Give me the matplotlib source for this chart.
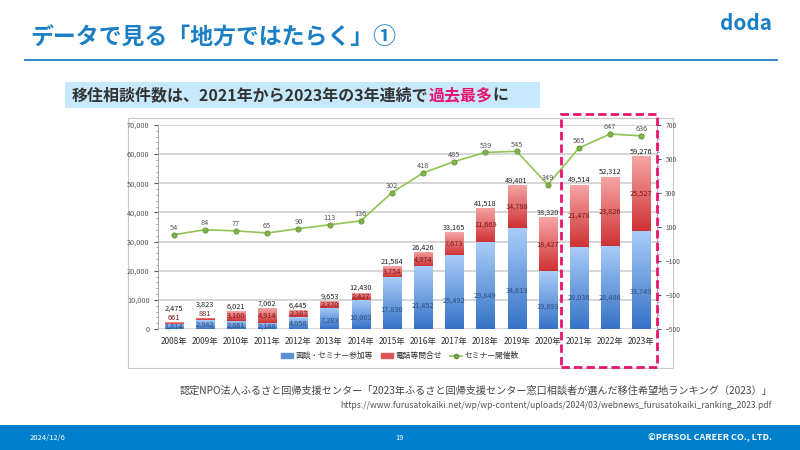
import numpy as np
import matplotlib
matplotlib.use("Agg")
import matplotlib.pyplot as plt
from matplotlib.colors import LinearSegmentedColormap
from matplotlib.patches import Rectangle
from matplotlib.lines import Line2D

plt.rcParams['font.family'] = ['Noto Sans CJK JP', 'DejaVu Sans']

years = [f"{y}年" for y in range(2008, 2024)]
meeting = [1814, 2942, 2861, 2148, 4058, 7283, 10003, 17830, 21452, 25492,
           29849, 34613, 19893, 28036, 28486, 33749]
phone = [661, 881, 3160, 4914, 2387, 2370, 2427, 3754, 4974, 7673,
         11669, 14788, 18427, 21478, 23826, 25527]
totals = [2475, 3823, 6021, 7062, 6445, 9653, 12430, 21584, 26426, 33165,
          41518, 49401, 38320, 49514, 52312, 59276]
seminars = [54, 84, 77, 65, 90, 113, 136, 302, 418, 485, 539, 545, 349, 565, 647, 636]
left_ticks = [0, 10000, 20000, 30000, 40000, 50000, 60000, 70000]
right_ticks = [-500, -300, -100, 100, 300, 500, 700]

BLUE = "#1a7fc4"
PINK = "#e8156f"

W, H = 800, 450
fig = plt.figure(figsize=(8, 4.5), dpi=100)
fig.patch.set_facecolor("white")


def px(x0, y0, w, h):
    # pixel box (top-left origin) -> figure fraction
    return [x0 / W, 1 - (y0 + h) / H, w / W, h / H]


# header
fig.text(30 / W, 1 - 38 / H, "データで見る「地方ではたらく」①", fontsize=16.5,
         fontweight="bold", color=BLUE, va="center", ha="left")
fig.text(772 / W, 1 - 24 / H, "doda", fontsize=15, fontweight="bold",
         color=BLUE, va="center", ha="right")
fig.add_artist(Line2D([25 / W, 777 / W], [1 - 60 / H] * 2, color=BLUE, lw=1.3))

# subtitle box
fig.add_artist(Rectangle((65 / W, 1 - 108 / H), 475 / W, 26 / H,
                         transform=fig.transFigure, facecolor="#c8e8fb",
                         edgecolor="none"))
t1 = fig.text(72 / W, 1 - 95 / H, "移住相談件数は、2021年から2023年の3年連続で",
              fontsize=11.5, fontweight="bold", color="#333333", va="center")
fig.canvas.draw()
bb = t1.get_window_extent()
t2 = fig.text(bb.x1 / (W), 1 - 95 / H, "過去最多", fontsize=11.5,
              fontweight="bold", color=PINK, va="center")
fig.canvas.draw()
bb2 = t2.get_window_extent()
fig.text(bb2.x1 / W, 1 - 95 / H, "に", fontsize=11.5, fontweight="bold",
         color="#333333", va="center")

# chart frame
fig.add_artist(Rectangle((128 / W, 1 - 368 / H), 545 / W, 250 / H,
                         transform=fig.transFigure, facecolor="white",
                         edgecolor="#c8c8c8", lw=0.8))

ax = fig.add_axes(px(158, 125, 499, 204))
ax.set_xlim(-0.5, 15.5)
ax.set_ylim(0, 70000)
ax.set_zorder(2)
ax.patch.set_visible(False)

blue_cmap = LinearSegmentedColormap.from_list("b", ["#3572c6", "#a9cdf9"])
red_cmap = LinearSegmentedColormap.from_list("r", ["#cf3234", "#f7a6a6"])
grad = np.linspace(0, 1, 256).reshape(-1, 1)

x = np.arange(len(years))
bw = 0.58
b1 = ax.bar(x, meeting, bw, color="none", zorder=3)
b2 = ax.bar(x, phone, bw, bottom=meeting, color="none", zorder=3)
for bars, cmap in ((b1, blue_cmap), (b2, red_cmap)):
    for r in bars:
        x0, y0 = r.get_x(), r.get_y()
        im = ax.imshow(grad, cmap=cmap, origin="lower", aspect="auto",
                       extent=(x0, x0 + r.get_width(), y0, y0 + r.get_height()),
                       zorder=3)
        im.set_clip_path(r)
ax.set_xlim(-0.5, 15.5)
ax.set_ylim(0, 70000)

for i in range(len(years)):
    if meeting[i] > 6000:
        ax.text(x[i], meeting[i] * 0.38, f"{meeting[i]:,}", ha="center",
                va="center", fontsize=5.3, color="#2d4f80", zorder=5)
    else:
        ax.text(x[i], meeting[i] * 0.45, f"{meeting[i]:,}", ha="center",
                va="center", fontsize=5.3, color="#2d4f80", zorder=5)
    if phone[i] > 1500:
        ax.text(x[i], meeting[i] + phone[i] / 2, f"{phone[i]:,}", ha="center",
                va="center", fontsize=5.3, color="#7a1a1a", zorder=5)
    else:
        ax.text(x[i], totals[i] + 1300, f"{phone[i]:,}", ha="center",
                va="center", fontsize=5.3, color="#7a1a1a", zorder=5)
    off = 4500 if phone[i] <= 1500 else 1600
    ax.text(x[i], totals[i] + off, f"{totals[i]:,}", ha="center", va="center",
            fontsize=5.3, color="#222222", zorder=5)

ax.set_yticks(left_ticks)
ax.set_yticklabels([f"{v:,}" for v in left_ticks])
ax.set_yticks(np.arange(0, 70001, 2000), minor=True)
ax.grid(axis="y", color="#d0d0d0", lw=1.2, zorder=0)
ax.set_axisbelow(True)
ax.set_xticks(x)
ax.set_xticklabels(years)
ax.tick_params(axis="x", length=0, labelsize=6, colors="#333333", pad=6)
ax.tick_params(axis="y", which="major", length=3, labelsize=5.3,
               colors="#555555", pad=3)
ax.tick_params(axis="y", which="minor", length=1.5, color="#888888")
for s in ("top", "right", "bottom"):
    ax.spines[s].set_visible(False)
ax.spines["left"].set_color("#a0a0a0")
ax.spines["left"].set_linewidth(0.6)

ax2 = ax.twinx()
ax2.set_ylim(-500, 700)
ax2.set_zorder(3)
ax2.plot(x, seminars, color="#8fc552", lw=1.2, marker="o", ms=3.8,
         mfc="#7fb548", mec="#5e8f35", mew=0.5, zorder=4)
for i, v in enumerate(seminars):
    ax2.text(x[i], v + 40, str(v), ha="center", va="center", fontsize=5.3,
             color="#555555", zorder=5)
ax2.set_yticks(right_ticks)
ax2.set_yticks(np.arange(-500, 701, 40), minor=True)
ax2.tick_params(axis="y", which="major", length=3, labelsize=4.8,
                colors="#555555", pad=3)
ax2.tick_params(axis="y", which="minor", length=1.5, color="#888888")
for s in ("top", "left", "bottom"):
    ax2.spines[s].set_visible(False)
ax2.spines["right"].set_color("#a0a0a0")
ax2.spines["right"].set_linewidth(0.6)

handles = [Rectangle((0, 0), 1, 1, color="#5b8fd6"),
           Rectangle((0, 0), 1, 1, color="#e05656"),
           Line2D([0], [0], color="#8fc552", lw=1.2, marker="o", ms=3,
                  mfc="#7fb548", mec="#5e8f35")]
fig.legend(handles, ["面談・セミナー参加等", "電話等問合せ", "セミナー開催数"],
           loc="center", bbox_to_anchor=(400 / W, 1 - 356 / H), ncol=3,
           frameon=False, fontsize=5.6, handlelength=1.5, handleheight=0.5,
           columnspacing=1.1, handletextpad=0.3, labelcolor="#333333")

# highlight box
fig.add_artist(Rectangle((561 / W, 1 - 367 / H), 96 / W, 253 / H,
                         transform=fig.transFigure, facecolor="none",
                         edgecolor=PINK, lw=2, linestyle=(0, (3, 1.5)),
                         zorder=10))

# source
fig.text(772 / W, 1 - 391 / H,
         "認定NPO法人ふるさと回帰支援センター「2023年ふるさと回帰支援センター窓口相談者が選んだ移住希望地ランキング（2023）」",
         fontsize=7.3, color="#444444", ha="right", va="center")
fig.text(772 / W, 1 - 406 / H,
         "https://www.furusatokaiki.net/wp/wp-content/uploads/2024/03/webnews_furusatokaiki_ranking_2023.pdf",
         fontsize=6.2, color="#555555", ha="right", va="center")

# footer
fig.add_artist(Rectangle((0, 0), 1, 25 / H, transform=fig.transFigure,
                         facecolor="#0080cc", edgecolor="none"))
fig.text(30 / W, 12 / H, "2024/12/6", fontsize=5.5, color="white", va="center")
fig.text(400 / W, 12 / H, "19", fontsize=5.5, color="white", va="center",
         ha="center")
fig.text(772 / W, 12 / H, "©PERSOL CAREER CO., LTD.", fontsize=6.5,
         fontweight="bold", color="white", va="center", ha="right")

fig.savefig("out.png", dpi=100)
